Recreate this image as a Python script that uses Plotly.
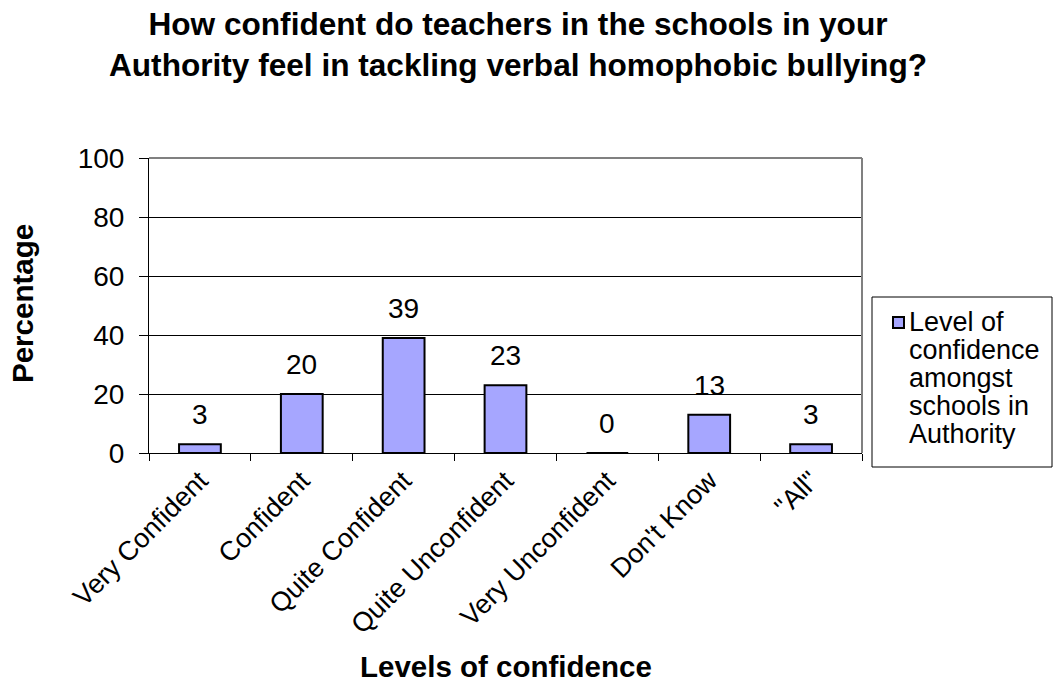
import plotly.graph_objects as go

categories = ["Very Confident", "Confident", "Quite Confident", "Quite Unconfident",
              "Very Unconfident", "Don't Know", "\"All\""]
values = [3, 20, 39, 23, 0, 13, 3]
series_lines = ["Level of", "confidence", "amongst", "schools in", "Authority"]
y_ticks = [0, 20, 40, 60, 80, 100]

FONT = "Arial, Liberation Sans, sans-serif"
BAR_COLOR = "#A6A6FF"
W, H = 1054, 682
L, R, T, B = 149, 192, 158, 229
pw, ph = W - L - R, H - T - B


def px_x(x):
    return (x - L) / pw


def px_y(y):
    return (H - B - y) / ph


fig = go.Figure()
fig.add_trace(go.Bar(
    x=categories, y=values, name=" ".join(series_lines),
    marker=dict(color=BAR_COLOR, line=dict(color="black", width=2)),
    width=0.41, showlegend=False,
))

# data labels
for c, v in zip(categories, values):
    fig.add_annotation(x=c, y=v, xref="x", yref="y", text=str(v), showarrow=False,
                       yanchor="bottom", yshift=12,
                       font=dict(family=FONT, size=28, color="black"))

# axis titles
fig.add_annotation(x=px_x(22), y=px_y(304), xref="paper", yref="paper",
                   text="<b>Percentage</b>", textangle=-90, showarrow=False,
                   xanchor="center", yanchor="middle",
                   font=dict(family=FONT, size=29.5, color="black"))
fig.add_annotation(x=0.5, y=px_y(666), xref="paper", yref="paper",
                   text="<b>Levels of confidence</b>", showarrow=False,
                   xanchor="center", yanchor="middle",
                   font=dict(family=FONT, size=29.5, color="black"))

# plot-area border (top and right, gray)
fig.add_shape(type="line", xref="paper", yref="paper", x0=0, x1=1, y0=1, y1=1,
              line=dict(color="#808080", width=2), layer="above")
fig.add_shape(type="line", xref="paper", yref="paper", x0=1, x1=1, y0=0, y1=1,
              line=dict(color="#808080", width=2), layer="above")

# legend box
fig.add_shape(type="rect", xref="paper", yref="paper",
              x0=px_x(872), x1=px_x(1052), y0=px_y(467), y1=px_y(297),
              line=dict(color="black", width=1), fillcolor="white", layer="above")
fig.add_shape(type="rect", xref="paper", yref="paper",
              x0=px_x(893), x1=px_x(904), y0=px_y(328), y1=px_y(317),
              line=dict(color="black", width=2), fillcolor=BAR_COLOR, layer="above")
for i, line in enumerate(series_lines):
    fig.add_annotation(x=px_x(907), y=px_y(322 + 28 * i), xref="paper", yref="paper",
                       text=line, showarrow=False, xanchor="left", yanchor="middle",
                       font=dict(family=FONT, size=27, color="black"))

fig.update_layout(
    width=W, height=H,
    margin=dict(l=L, r=R, t=T, b=B),
    paper_bgcolor="white", plot_bgcolor="white",
    font=dict(family=FONT, color="black"),
    title=dict(text="<b>How confident do teachers in the schools in your<br>Authority feel in tackling verbal homophobic bullying?</b>",
               x=518 / W, xref="container", xanchor="center",
               y=1 - 35 / H, yref="container", yanchor="middle",
               font=dict(family=FONT, size=31.6, color="black")),
    showlegend=False,
)
fig.update_xaxes(
    type="category", tickangle=-45, showline=True, linecolor="black", linewidth=1,
    ticks="outside", tickson="boundaries", ticklen=7, tickcolor="black",
    tickfont=dict(family=FONT, size=27, color="black"), showgrid=False,
)
fig.update_yaxes(
    range=[0, 100], tickvals=y_ticks, showline=True, linecolor="black", linewidth=1,
    ticks="outside", ticklen=9, tickcolor="black", ticklabelstandoff=9,
    tickfont=dict(family=FONT, size=28, color="black"),
    showgrid=True, gridcolor="black", gridwidth=1, zeroline=False,
)

fig.write_html("out.html", config={"displayModeBar": False},
               post_script="document.body.style.margin='0';")
